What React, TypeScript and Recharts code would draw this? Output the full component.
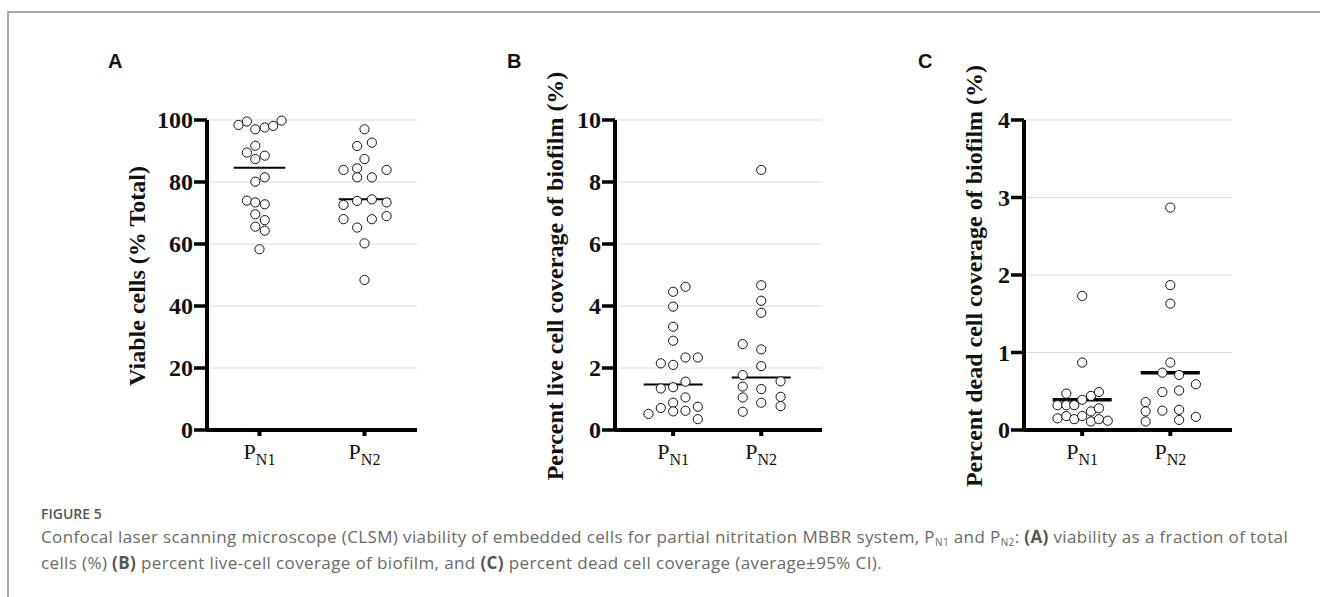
import React from "react";
import {
  ScatterChart,
  Scatter,
  XAxis,
  YAxis,
  CartesianGrid,
  ReferenceLine,
} from "recharts";

// group labels (subscripts of P)
const groups = ["N1", "N2"];

// A: viable cells (% total)
const viableN1 = [98.4, 99.5, 97.0, 97.6, 98.1, 99.8, 91.7, 89.5, 87.4, 88.5, 81.5, 80.1, 74.0, 73.4, 72.8, 69.6, 67.7, 65.6, 64.3, 58.3];
const viableN1Jitter = [-0.2, -0.12, -0.04, 0.05, 0.13, 0.21, -0.04, -0.12, -0.04, 0.05, 0.05, -0.04, -0.12, -0.04, 0.05, -0.04, 0.05, -0.04, 0.05, 0];
const viableN2 = [97.0, 91.6, 92.7, 87.4, 83.9, 84.4, 81.5, 81.5, 83.9, 72.6, 73.9, 74.4, 73.4, 68.0, 68.0, 69.0, 65.3, 60.2, 48.4];
const viableN2Jitter = [0, -0.07, 0.07, 0, -0.2, -0.07, -0.07, 0.07, 0.21, -0.2, -0.07, 0.07, 0.21, -0.2, 0.07, 0.21, -0.07, 0, 0];
const viableMeans = [84.6, 74.4];
const viableTicks = [0, 20, 40, 60, 80, 100];

// B: live cell coverage (%)
const liveN1 = [4.62, 4.46, 3.98, 3.33, 2.88, 2.15, 2.1, 2.34, 2.34, 1.56, 1.34, 1.38, 1.05, 0.88, 0.52, 0.71, 0.6, 0.62, 0.75, 0.35];
const liveN1Jitter = [0.14, 0, 0, 0, 0, -0.14, 0, 0.14, 0.28, 0.14, -0.14, 0, 0.14, 0, -0.28, -0.14, 0, 0.14, 0.28, 0.28];
const liveN2 = [8.39, 4.67, 4.17, 3.78, 2.77, 2.6, 2.06, 1.77, 1.4, 1.32, 1.57, 1.05, 0.88, 1.07, 0.59, 0.77];
const liveN2Jitter = [0, 0, 0, 0, -0.21, 0, 0, -0.21, -0.21, 0, 0.22, -0.21, 0, 0.22, -0.21, 0.22];
const liveMeans = [1.47, 1.69];
const liveTicks = [0, 2, 4, 6, 8, 10];

// C: dead cell coverage (%)
const deadN1 = [1.73, 0.87, 0.47, 0.44, 0.49, 0.39, 0.32, 0.32, 0.32, 0.24, 0.28, 0.15, 0.18, 0.14, 0.18, 0.11, 0.14, 0.12];
const deadN1Jitter = [0, 0, -0.18, 0.1, 0.19, 0, -0.28, -0.18, -0.09, 0.1, 0.19, -0.28, -0.18, -0.09, 0, 0.1, 0.19, 0.29];
const deadN2 = [2.87, 1.87, 1.63, 0.87, 0.74, 0.71, 0.59, 0.49, 0.51, 0.36, 0.24, 0.25, 0.26, 0.11, 0.13, 0.17];
const deadN2Jitter = [0, 0, 0, 0, -0.09, 0.1, 0.29, -0.09, 0.1, -0.28, -0.28, -0.09, 0.1, -0.28, 0.1, 0.29];
const deadMeans = [0.39, 0.74];
const deadTicks = [0, 1, 2, 3, 4];

const serif = "'Liberation Serif', 'Times New Roman', serif";

const toPoints = (values: number[], jitter: number[], g: number) =>
  values.map((v, i) => ({ x: g + jitter[i], y: v }));

const Dot = (p: any) => (
  <circle cx={p.cx} cy={p.cy} r={4.6} fill="#fff" stroke="#111" strokeWidth={1} />
);

const XTick = ({ x, y, payload }: any) => (
  <text x={x} y={y + 21} textAnchor="middle" fontFamily={serif} fontSize={22} fill="#111">
    <tspan>P</tspan>
    <tspan fontSize={16} dy={6}>{groups[payload.value - 1]}</tspan>
  </text>
);

const YTick = ({ x, y, payload }: any) => (
  <text x={x} y={y + 8} textAnchor="end" fontFamily={serif} fontWeight={700} fontSize={24} fill="#111">
    {payload.value}
  </text>
);

type PanelProps = {
  series: { x: number; y: number }[][];
  means: number[];
  ticks: number[];
  xDomain: [number, number];
  axisLeft: number;
  axisRight: number;
  meanHalf: number;
  meanWidth: number;
};

function Panel({ series, means, ticks, xDomain, axisLeft, axisRight, meanHalf, meanWidth }: PanelProps) {
  const yw = 60;
  return (
    <div style={{ position: "absolute", left: axisLeft - yw, top: 0 }}>
      <ScatterChart
        width={axisRight - axisLeft + yw + 5}
        height={480}
        margin={{ top: 120, right: 5, bottom: 10, left: 0 }}
      >
        <CartesianGrid vertical={false} stroke="#dcdcdc" />
        <XAxis
          type="number"
          dataKey="x"
          domain={xDomain}
          ticks={[1, 2]}
          allowDataOverflow
          height={40}
          axisLine={{ stroke: "#000", strokeWidth: 4 }}
          tickLine={{ stroke: "#000", strokeWidth: 4 }}
          tickSize={6}
          tick={<XTick />}
        />
        <YAxis
          type="number"
          dataKey="y"
          width={yw}
          domain={[ticks[0], ticks[ticks.length - 1]]}
          ticks={ticks}
          interval={0}
          axisLine={{ stroke: "#000", strokeWidth: 4 }}
          tickLine={{ stroke: "#000", strokeWidth: 3.5 }}
          tickSize={13}
          tickMargin={1}
          tick={<YTick />}
        />
        {series.map((pts, i) => (
          <Scatter key={i} data={pts} shape={Dot} isAnimationActive={false} />
        ))}
        {means.map((m, i) => (
          <ReferenceLine
            key={"m" + i}
            segment={[
              { x: i + 1 - meanHalf, y: m },
              { x: i + 1 + meanHalf, y: m },
            ]}
            stroke="#000"
            strokeWidth={meanWidth}
          />
        ))}
      </ScatterChart>
    </div>
  );
}

const yLabels = [
  { text: "Viable cells (% Total)", x: 145 },
  { text: "Percent live cell coverage of biofilm (%)", x: 563 },
  { text: "Percent dead cell coverage of biofilm (%)", x: 982 },
];
const letters = [
  { text: "A", x: 108 },
  { text: "B", x: 507 },
  { text: "C", x: 918 },
];

const sub = { fontSize: 10, position: "relative" as const, top: 3 };

export default function App() {
  return (
    <div style={{ position: "absolute", left: 0, top: 0, width: 1320, height: 597, background: "#fff", overflow: "hidden" }}>
      <div
        style={{
          position: "absolute",
          left: 7,
          top: 11,
          width: 1313,
          height: 590,
          borderTop: "2px solid #a8a8a8",
          borderLeft: "2px solid #a8a8a8",
        }}
      />
      <Panel
        series={[toPoints(viableN1, viableN1Jitter, 1), toPoints(viableN2, viableN2Jitter, 2)]}
        means={viableMeans}
        ticks={viableTicks}
        xDomain={[0.5, 2.5]}
        axisLeft={207}
        axisRight={417}
        meanHalf={0.245}
        meanWidth={2}
      />
      <Panel
        series={[toPoints(liveN1, liveN1Jitter, 1), toPoints(liveN2, liveN2Jitter, 2)]}
        means={liveMeans}
        ticks={liveTicks}
        xDomain={[0.34, 2.69]}
        axisLeft={615}
        axisRight={822}
        meanHalf={0.335}
        meanWidth={2}
      />
      <Panel
        series={[toPoints(deadN1, deadN1Jitter, 1), toPoints(deadN2, deadN2Jitter, 2)]}
        means={deadMeans}
        ticks={deadTicks}
        xDomain={[0.34, 2.7]}
        axisLeft={1024}
        axisRight={1232}
        meanHalf={0.335}
        meanWidth={3.5}
      />
      <svg width={1320} height={597} style={{ position: "absolute", left: 0, top: 0, pointerEvents: "none" }}>
        {letters.map((l) => (
          <text key={l.text} x={l.x} y={68} fontFamily="'Liberation Sans', Arial, sans-serif" fontWeight={700} fontSize={20} fill="#111">
            {l.text}
          </text>
        ))}
        {yLabels.map((l) => (
          <text
            key={l.text}
            transform={`translate(${l.x},276) rotate(-90)`}
            textAnchor="middle"
            fontFamily={serif}
            fontWeight={700}
            fontSize={24}
            fill="#111"
          >
            {l.text}
          </text>
        ))}
      </svg>
      <div
        style={{
          position: "absolute",
          left: 41,
          top: 505,
          fontFamily: "'Open Sans', sans-serif",
          fontSize: 14,
          lineHeight: "18px",
          fontWeight: 600,
          color: "#555",
          whiteSpace: "nowrap",
        }}
      >
        FIGURE 5
      </div>
      <div
        style={{
          position: "absolute",
          left: 41,
          top: 525,
          fontFamily: "'Open Sans', sans-serif",
          fontSize: 17,
          letterSpacing: 0.38,
          lineHeight: "24px",
          color: "#6a6a6a",
          whiteSpace: "nowrap",
        }}
      >
        Confocal laser scanning microscope (CLSM) viability of embedded cells for partial nitritation MBBR system, P
        <span style={sub}>N1</span> and P<span style={sub}>N2</span>: <b style={{ color: "#555" }}>(A)</b> viability as a fraction of total
        <br />
        cells (%) <b style={{ color: "#555" }}>(B)</b> percent live-cell coverage of biofilm, and <b style={{ color: "#555" }}>(C)</b> percent dead cell coverage (average±95% CI).
      </div>
    </div>
  );
}
